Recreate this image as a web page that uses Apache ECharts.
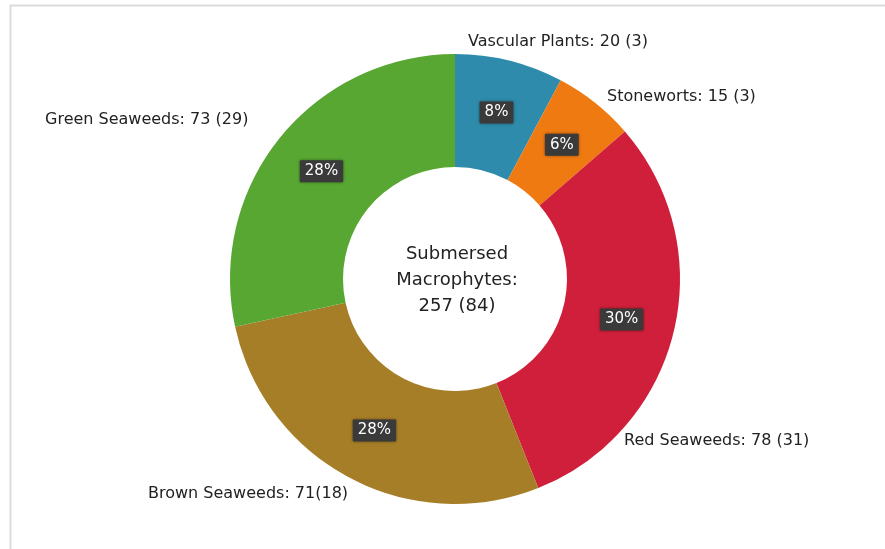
<!DOCTYPE html>
<html>
<head>
<meta charset="utf-8">
<script src="https://cdn.jsdelivr.net/npm/echarts@6/dist/echarts.min.js"></script>
<style>
  html, body { margin: 0; padding: 0; background: #fff; }
  #chart { width: 885px; height: 549px; }
</style>
</head>
<body>
<div id="chart"></div>
<script>
const groups = ["Vascular Plants", "Stoneworts", "Red Seaweeds", "Brown Seaweeds", "Green Seaweeds"];
const species = [20, 15, 78, 71, 73];
const genera = [3, 3, 31, 18, 29];
const colors = ["#2f8bab", "#ef7a12", "#d01f3a", "#a67e28", "#58a733"];
const centerText = ["Submersed", "Macrophytes:", "257 (84)"];

const chart = echarts.init(document.getElementById("chart"));

const pieData = groups.map((name, i) => ({
  name: name,
  value: species[i],
  itemStyle: { color: colors[i] }
}));

// where the outer labels sit (left edge, middle), layout only
const labelSpots = [
  [468, 42],
  [607, 97],
  [624, 441],
  [148, 494],
  [45, 120]
];

chart.setOption({
  animation: false,
  backgroundColor: "#fff",
  graphic: [
    {
      type: "rect",
      shape: { x: 10.5, y: 5.5, width: 900, height: 600 },
      style: { fill: "none", stroke: "#dcdcdc", lineWidth: 2 },
      silent: true
    },
    {
      type: "text",
      x: 457,
      y: 280,
      style: {
        text: centerText.join("\n"),
        align: "center",
        verticalAlign: "middle",
        font: "18px 'DejaVu Sans'",
        fill: "#222",
        lineHeight: 26
      }
    }
  ],
  series: [
    {
      type: "pie",
      center: [455, 279],
      radius: [112, 225],
      startAngle: 90,
      data: pieData,
      labelLine: { show: false },
      label: {
        position: "inside",
        formatter: (p) => Math.round(p.percent) + "%",
        color: "#fff",
        fontFamily: "DejaVu Sans",
        fontSize: 15,
        backgroundColor: "#3a3a3a",
        padding: [4, 5, 3, 5],
        borderRadius: 1,
        shadowColor: "rgba(0,0,0,0.45)",
        shadowBlur: 3
      }
    },
    {
      type: "pie",
      center: [455, 279],
      radius: [112, 225],
      startAngle: 90,
      silent: true,
      data: pieData.map((d) => ({ name: d.name, value: d.value })),
      itemStyle: { color: "rgba(0,0,0,0)" },
      labelLine: { show: false },
      label: {
        position: "outside",
        overflow: "none",
        width: 300,
        formatter: (p) => p.name + ": " + p.value + (p.dataIndex === 3 ? "" : " ") + "(" + genera[p.dataIndex] + ")",
        color: "#222",
        fontFamily: "DejaVu Sans",
        fontSize: 16
      },
      labelLayout: (params) => ({
        x: labelSpots[params.dataIndex][0],
        y: labelSpots[params.dataIndex][1],
        align: "left",
        verticalAlign: "middle"
      })
    }
  ]
});
</script>
</body>
</html>
